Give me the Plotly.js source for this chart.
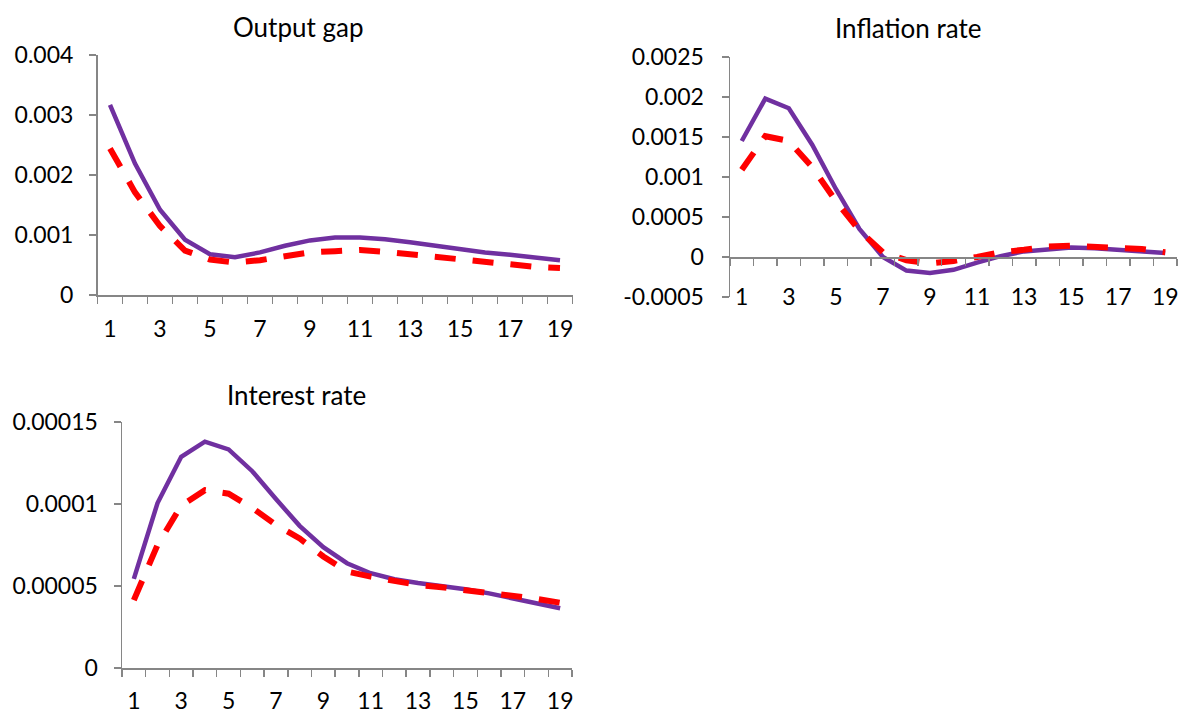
<!DOCTYPE html>
<html>
<head>
<meta charset="utf-8">
<script src="https://cdn.plot.ly/plotly-3.0.1.min.js"></script>
<style>html,body{margin:0;padding:0;background:#fff;}#chart{width:1189px;height:713px;}</style>
</head>
<body>
<div id="chart"></div>
<script>
// ---- data ----
var periods = [1,2,3,4,5,6,7,8,9,10,11,12,13,14,15,16,17,18,19];
var xTickVals = [1,3,5,7,9,11,13,15,17,19];
var xTickText = ["1","3","5","7","9","11","13","15","17","19"];

var outputGapSolid  = [0.00317,0.00219,0.00142,0.00092,0.00068,0.00063,0.00071,0.00082,0.00091,0.00096,0.00096,0.00093,0.00088,0.00082,0.00076,0.00071,0.00067,0.00063,0.00058];
var outputGapDashed = [0.00244,0.00171,0.00115,0.00074,0.00059,0.00054,0.00058,0.00064,0.00071,0.00073,0.00075,0.00072,0.00068,0.00063,0.00058,0.00054,0.00051,0.00047,0.00045];

var inflationSolid  = [0.00145,0.00198,0.00186,0.00140,0.00085,0.00035,0.0000,-0.00017,-0.00020,-0.00016,-0.00007,0.00001,0.00007,0.00010,0.00012,0.00011,0.00009,0.00007,0.00005];
var inflationDashed = [0.00109,0.00151,0.00145,0.00112,0.00070,0.00033,0.00006,-0.00004,-0.00008,-0.00005,0.0000,0.00006,0.00009,0.00013,0.00014,0.00013,0.00011,0.00010,0.00006];

var interestSolid  = [0.0000543,0.0001006,0.0001288,0.0001380,0.0001333,0.0001200,0.0001030,0.0000867,0.0000737,0.0000639,0.0000578,0.0000541,0.0000518,0.0000500,0.0000480,0.0000455,0.0000424,0.0000394,0.0000364];
var interestDashed = [0.0000414,0.0000750,0.0000990,0.0001084,0.0001063,0.0000976,0.0000873,0.0000790,0.0000680,0.0000588,0.0000557,0.0000527,0.0000506,0.0000492,0.0000476,0.0000461,0.0000443,0.0000422,0.0000398];

var outputTickVals = [0,0.001,0.002,0.003,0.004];
var outputTickText = ["0","0.001","0.002","0.003","0.004"];
var inflTickVals = [-0.0005,0,0.0005,0.001,0.0015,0.002,0.0025];
var inflTickText = ["-0.0005","0","0.0005","0.001","0.0015","0.002","0.0025"];
var intTickVals = [0,0.00005,0.0001,0.00015];
var intTickText = ["0","0.00005","0.0001","0.00015"];

var titles = ["Output gap","Inflation rate","Interest rate"];

// ---- styles ----
var W = 1189, H = 713;
var PURPLE = '#7030A0', RED = '#FF0000', GRAY = '#868686';
var FONT = 'Lato, Open Sans, sans-serif';
var TICKSIZE = 23, TITLESIZE = 26;
function px(x){return x/W;}
function py(y){return 1 - y/H;}

function solid(x,y,xa,ya){return {x:x,y:y,xaxis:xa,yaxis:ya,type:'scatter',mode:'lines',line:{color:PURPLE,width:4.5},hoverinfo:'skip'};}
function dashed(x,y,xa,ya){return {x:x,y:y,xaxis:xa,yaxis:ya,type:'scatter',mode:'lines',line:{color:RED,width:6,dash:'21px,17px'},hoverinfo:'skip'};}

var data = [
  solid(periods,outputGapSolid,'x','y'),
  dashed(periods,outputGapDashed,'x','y'),
  solid(periods,inflationSolid,'x2','y2'),
  dashed(periods,inflationDashed,'x2','y2'),
  solid(periods,interestSolid,'x3','y3'),
  dashed(periods,interestDashed,'x3','y3')
];

function xax(domain, standoff, extra){
  var a = {domain:domain, range:[0.5,19.5], showgrid:false, zeroline:false,
    showline:true, linecolor:GRAY, linewidth:1.5,
    tickmode:'array', tickvals:xTickVals, ticktext:xTickText, ticks:'',
    ticklabelstandoff:standoff,
    minor:{tick0:0.5, dtick:1, ticks:'outside', ticklen:7, tickcolor:GRAY, tickwidth:1.5, showgrid:false},
    tickfont:{family:FONT,size:TICKSIZE,color:'#000'}, fixedrange:true};
  for (var k in extra) a[k]=extra[k];
  return a;
}
function yax(domain, range, tv, tt, anchor, standoff){
  return {domain:domain, range:range, anchor:anchor, showgrid:false, zeroline:false,
    showline:true, linecolor:GRAY, linewidth:1.5, ticks:'outside', ticklen:7, tickcolor:GRAY, tickwidth:1.5,
    tickmode:'array', tickvals:tv, ticktext:tt, ticklabelstandoff:standoff,
    tickfont:{family:FONT,size:TICKSIZE,color:'#000'}, fixedrange:true};
}

var y2dom = [py(297), py(57)];
var zeroPos = y2dom[0] + (y2dom[1]-y2dom[0]) * (0.0005/0.003);

var layout = {
  width:W, height:H, margin:{l:0,r:0,t:0,b:0}, showlegend:false,
  paper_bgcolor:'#fff', plot_bgcolor:'rgba(0,0,0,0)',
  xaxis: xax([px(97.5),px(572.5)], 13, {anchor:'y'}),
  yaxis: yax([py(295),py(55)], [0,0.004], outputTickVals, outputTickText, 'x', 11),
  xaxis2: xax([px(730),px(1177)], 19, {anchor:'free', position:zeroPos}),
  yaxis2: yax(y2dom, [-0.0005,0.0025], inflTickVals, inflTickText, 'x2', 13),
  xaxis3: xax([px(122),px(572)], 12, {anchor:'y3'}),
  yaxis3: yax([py(668),py(422)], [0,0.00015], intTickVals, intTickText, 'x3', 11),
  annotations: [
    {text:titles[0], x:px(298), y:py(27), xref:'paper', yref:'paper', showarrow:false, xanchor:'center', yanchor:'middle', font:{family:FONT,size:TITLESIZE,color:'#000'}},
    {text:titles[1], x:px(908), y:py(28), xref:'paper', yref:'paper', showarrow:false, xanchor:'center', yanchor:'middle', font:{family:FONT,size:TITLESIZE,color:'#000'}},
    {text:titles[2], x:px(296), y:py(395), xref:'paper', yref:'paper', showarrow:false, xanchor:'center', yanchor:'middle', font:{family:FONT,size:TITLESIZE,color:'#000'}}
  ]
};

Plotly.newPlot('chart', data, layout, {staticPlot:true, displayModeBar:false});
</script>
</body>
</html>
